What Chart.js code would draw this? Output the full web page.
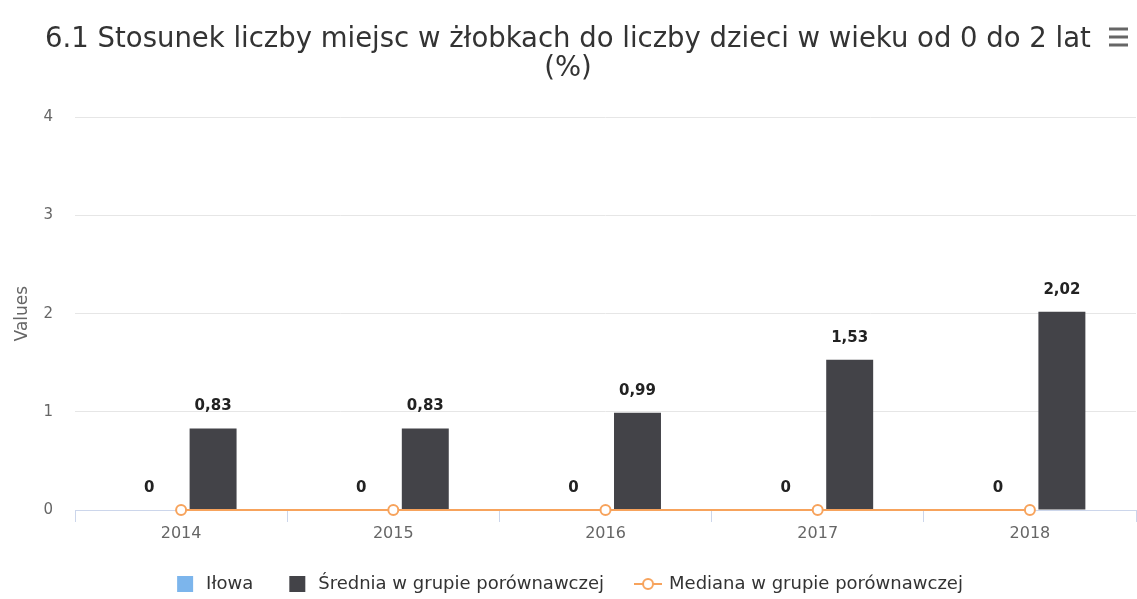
<!DOCTYPE html>
<html>
<head>
<meta charset="utf-8">
<script src="https://cdn.jsdelivr.net/npm/chart.js@4/dist/chart.umd.min.js"></script>
<style>
    html, body { margin: 0; padding: 0; background: #fff; }
    #wrap { width: 1137px; height: 599px; position: relative; }
</style>
</head>
<body>
<div id="wrap"><canvas id="chart" width="1137" height="599"></canvas></div>
<script>
const years = ['2014', '2015', '2016', '2017', '2018']
const ilowa = [0, 0, 0, 0, 0]
const srednia = [0.83, 0.83, 0.99, 1.53, 2.02]
const mediana = [0, 0, 0, 0, 0]
const seriesNames = ['Iłowa', 'Średnia w grupie porównawczej', 'Mediana w grupie porównawczej']
const titleLines = ['6.1 Stosunek liczby miejsc w żłobkach do liczby dzieci w wieku od 0 do 2 lat', '(%)']

const FONT = '"DejaVu Sans", sans-serif'
const BLUE = '#7cb5ec'
const DARK = '#434348'
const ORANGE = '#f7a35c'

// legend icons
function squareIcon(color) {
    let c = document.createElement('canvas')
    c.width = 24
    c.height = 18
    let ctx = c.getContext('2d')
    ctx.fillStyle = color
    ctx.fillRect(4, 1, 16, 16)
    return c
}

function lineIcon(color) {
    let c = document.createElement('canvas')
    c.width = 28
    c.height = 18
    let ctx = c.getContext('2d')
    ctx.strokeStyle = color
    ctx.lineWidth = 2
    ctx.beginPath()
    ctx.moveTo(0, 9)
    ctx.lineTo(28, 9)
    ctx.stroke()
    ctx.fillStyle = '#fff'
    ctx.beginPath()
    ctx.arc(14, 9, 5, 0, Math.PI * 2)
    ctx.fill()
    ctx.stroke()
    return c
}

const legendIcons = [squareIcon(BLUE), squareIcon(DARK), lineIcon(ORANGE)]

// "0,83" style labels above the bars
const barLabels = {
    id: 'barLabels',
    afterDatasetsDraw(chart) {
        let ctx = chart.ctx
        ctx.save()
        ctx.font = 'bold 15px ' + FONT
        ctx.fillStyle = '#222'
        ctx.textAlign = 'center'
        ctx.textBaseline = 'middle'
        chart.data.datasets.forEach((ds, i) => {
            if (ds.type !== 'bar') return
            chart.getDatasetMeta(i).data.forEach((bar, j) => {
                let txt = String(ds.data[j]).replace('.', ',')
                ctx.fillText(txt, bar.x, bar.y - 22)
            })
        })
        ctx.restore()
    }
}

// menu icon top right
const menuIcon = {
    id: 'menuIcon',
    afterDraw(chart) {
        let ctx = chart.ctx
        ctx.save()
        ctx.fillStyle = '#666'
        ;[29, 37, 45].forEach(y => ctx.fillRect(1109, y - 1.5, 19, 3))
        ctx.restore()
    }
}

let chart = new Chart(document.getElementById('chart'), {
    type: 'bar',
    data: {
        labels: years,
        datasets: [{
            type: 'bar',
            label: seriesNames[0],
            data: ilowa,
            backgroundColor: BLUE,
            order: 1
        }, {
            type: 'bar',
            label: seriesNames[1],
            data: srednia,
            backgroundColor: DARK,
            order: 1
        }, {
            type: 'line',
            label: seriesNames[2],
            data: mediana,
            borderColor: ORANGE,
            borderWidth: 2,
            pointRadius: 5,
            pointBorderWidth: 2,
            pointBackgroundColor: '#fff',
            pointBorderColor: ORANGE,
            clip: false,
            order: 0
        }]
    },
    options: {
        responsive: false,
        animation: false,
        datasets: {
            bar: { categoryPercentage: 0.603, barPercentage: 0.734 }
        },
        layout: { autoPadding: false, padding: { left: 0, right: 1, top: 0, bottom: -4 } },
        plugins: {
            tooltip: { enabled: false },
            title: {
                display: true,
                text: titleLines,
                color: '#333',
                font: { family: FONT, size: 27.5, weight: 'normal', lineHeight: 1.06 },
                padding: { top: 25, bottom: 34 }
            },
            legend: {
                position: 'bottom',
                labels: {
                    color: '#333',
                    font: { family: FONT, size: 18 },
                    usePointStyle: true,
                    pointStyleWidth: 24,
                    padding: 32,
                    sort: (a, b) => a.datasetIndex - b.datasetIndex,
                    generateLabels(chart) {
                        let items = Chart.defaults.plugins.legend.labels.generateLabels(chart)
                        items.forEach(it => { it.pointStyle = legendIcons[it.datasetIndex] })
                        return items
                    }
                }
            }
        },
        scales: {
            x: {
                afterFit(scale) {
                    scale.height = 33
                    scale.paddingLeft = 0
                    scale.paddingRight = 0
                },
                border: { display: true, color: '#ccd6eb' },
                grid: {
                    offset: true,
                    drawOnChartArea: false,
                    drawTicks: true,
                    tickLength: 12,
                    color: '#ccd6eb'
                },
                ticks: { color: '#666', font: { family: FONT, size: 16 }, padding: 2 }
            },
            y: {
                min: 0,
                max: 4,
                afterFit(scale) { scale.width = 75 },
                border: { display: false },
                grid: { color: '#e6e6e6', drawTicks: false },
                ticks: { stepSize: 1, color: '#666', font: { family: FONT, size: 15 }, padding: 22 },
                title: {
                    display: true,
                    text: 'Values',
                    color: '#666',
                    font: { family: FONT, size: 17 },
                    padding: { top: 12, bottom: 0 }
                }
            }
        }
    },
    plugins: [barLabels, menuIcon]
})
</script>
</body>
</html>
